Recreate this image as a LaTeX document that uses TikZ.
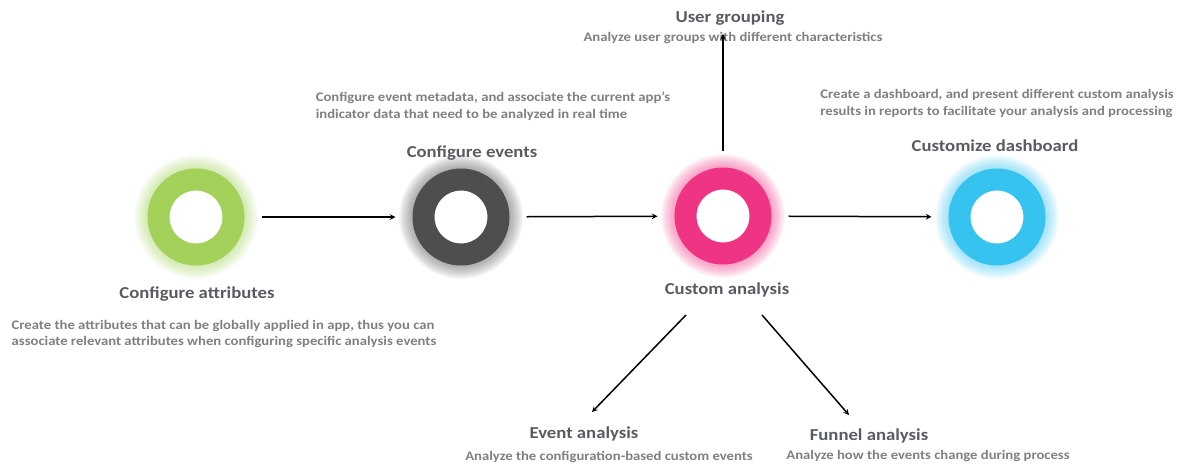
\documentclass[tikz,border=0pt]{standalone}
\usepackage{fontspec}
\setmainfont{Carlito}[FakeStretch=1.12]
\usepackage{xcolor}
\usetikzlibrary{arrows, positioning, backgrounds}

\definecolor{attrgreen}{HTML}{A3D15A}
\definecolor{evtgray}{HTML}{4E4F4D}
\definecolor{cuspink}{HTML}{EE3483}
\definecolor{dashblue}{HTML}{37C3F0}
\definecolor{titlegray}{HTML}{585B61}
\definecolor{descgray}{HTML}{808080}

\begin{document}
\begin{tikzpicture}[
    x=1pt, y=-1pt,
    ring/.style={circle, draw=#1, line width=22pt, fill=white, minimum size=75pt, inner sep=0pt, outer sep=28pt},
    title/.style={font=\fontsize{16.7}{19}\selectfont\bfseries, text=titlegray, inner sep=0pt},
    desc/.style={font=\fontsize{13.1}{16.5}\selectfont\bfseries, text=descgray, inner sep=0pt, align=left},
    arrow/.style={line width=1.5pt,->,>=stealth}
]
\useasboundingbox (0,0) rectangle (1180,464);

% the four stages
\node (attr) [ring=attrgreen] at (196,217) {};
\node (evt) [ring=evtgray] at (461,217) {};
\node (cus) [ring=cuspink] at (723,216) {};
\node (dash) [ring=dashblue] at (997,217) {};

% soft halo round each ring
\begin{scope}[on background layer]
\foreach \n/\c in {attr/attrgreen, evt/evtgray, cus/cuspink, dash/dashblue}
  \foreach \r in {1,...,14}
    \fill[\c, opacity=0.045] (\n) circle (48+\r);
\end{scope}

% titles and notes
\node (attrlbl) [title] at (197,294) {Configure attributes};
\node (attrdesc) [desc] at (224,334) {Create the attributes that can be globally applied in app, thus you can\\associate relevant attributes when configuring specific analysis events};

\node (evtlbl) [title] at (472,153) {Configure events};
\node (evtdesc) [desc] at (493,106.5) {Configure event metadata, and associate the current app’s\\indicator data that need to be analyzed in real time};

\node (cuslbl) [title] at (727,290) {Custom analysis};

\node (dashlbl) [title] at (995,146) {Customize dashboard};
\node (dashdesc) [desc] at (997,103.5) {Create a dashboard, and present different custom analysis\\results in reports to facilitate your analysis and processing};

\node (grouplbl) [title] at (730,18) {User grouping};
\node (groupdesc) [desc] at (733,38) {Analyze user groups with different characteristics};

\node (eventlbl) [title] at (584,434) {Event analysis};
\node (eventdesc) [desc] at (609,457) {Analyze the configuration-based custom events};

\node (funnellbl) [title] at (869,436) {Funnel analysis};
\node (funneldesc) [desc] at (928,456) {Analyze how the events change during process};

% flow
\draw[arrow] (attr) -- (evt);
\draw[arrow] (evt) -- (cus);
\draw[arrow] (cus) -- (dash);
\draw[arrow] (cus.north) -- ([yshift=10pt]groupdesc.south -| cus.north);
\draw[arrow] ([shift={(-41,25)}]cuslbl.center) -- ([shift={(8,-22)}]eventlbl.center);
\draw[arrow] ([shift={(35,25)}]cuslbl.center) -- ([shift={(-20,-21)}]funnellbl.center);

\end{tikzpicture}
\end{document}
